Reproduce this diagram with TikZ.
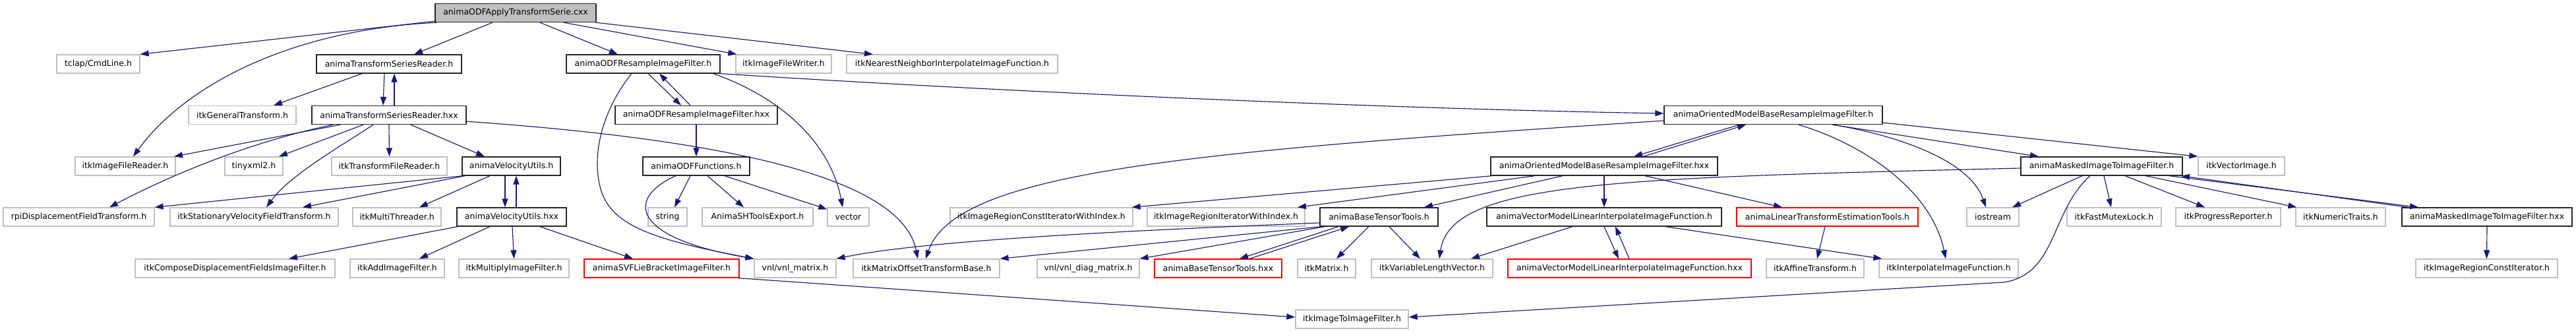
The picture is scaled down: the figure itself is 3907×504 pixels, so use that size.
\documentclass[tikz,border=0pt]{standalone}
\usepackage{fontspec}
\setmainfont{DejaVu Sans}
\usetikzlibrary{arrows.meta}
\definecolor{edgec}{HTML}{191970}
\definecolor{graybd}{HTML}{BFBFBF}
\begin{document}
\begin{tikzpicture}[x=1pt,y=-1pt,
  nb/.style={draw, line width=1.3pt, minimum height=28pt, inner sep=0pt, font=\fontsize{12.5}{14}\selectfont, anchor=center},
  gb/.style={nb, draw=graybd},
  kb/.style={nb, draw=black!85},
  rb/.style={nb, draw=red},
  dep/.style={draw=edgec, line width=1.15pt, -{Triangle[length=13pt,width=9pt]}}]
\fill[white] (0,0) rectangle (3907,504);
\useasboundingbox (0,0) rectangle (3907,504);
% row 1
\node[kb, fill=graybd, minimum width=244pt] (top) at (782,19.5) {animaODFApplyTransformSerie.cxx};
% row 2
\node[gb, minimum width=126pt] (tclap) at (149,97) {tclap/CmdLine.h};
\node[kb, minimum width=220pt] (tsrh) at (590,97) {animaTransformSeriesReader.h};
\node[kb, minimum width=233pt] (odfrh) at (975.5,97) {animaODFResampleImageFilter.h};
\node[gb, minimum width=145pt] (writer) at (1188.5,97) {itkImageFileWriter.h};
\node[gb, minimum width=320pt] (nn) at (1444,97) {itkNearestNeighborInterpolateImageFunction.h};
% row 3
\node[gb, minimum width=163pt] (gentr) at (367.5,174.5) {itkGeneralTransform.h};
\node[kb, minimum width=234pt] (tsrhxx) at (590,174.5) {animaTransformSeriesReader.hxx};
\node[kb, minimum width=246pt] (odfrhxx) at (1056,174.5) {animaODFResampleImageFilter.hxx};
\node[kb, minimum width=331pt] (ombh) at (2689.5,174.5) {animaOrientedModelBaseResampleImageFilter.h};
% row 4
\node[gb, minimum width=152pt] (reader) at (190,252) {itkImageFileReader.h};
\node[gb, minimum width=88pt] (tinyxml) at (385,252) {tinyxml2.h};
\node[gb, minimum width=175pt] (tfreader) at (590.5,252) {itkTransformFileReader.h};
\node[kb, minimum width=149pt] (vuh) at (775.5,252) {animaVelocityUtils.h};
\node[kb, minimum width=162pt] (odff) at (1056,252) {animaODFFunctions.h};
\node[kb, minimum width=344pt] (ombhxx) at (2433,252) {animaOrientedModelBaseResampleImageFilter.hxx};
\node[kb, minimum width=245pt] (maskedh) at (3187.5,252) {animaMaskedImageToImageFilter.h};
\node[gb, minimum width=131pt] (vecimg) at (3399.5,252) {itkVectorImage.h};
% row 5
\node[gb, minimum width=229pt] (rpi) at (119.5,329) {rpiDisplacementFieldTransform.h};
\node[gb, minimum width=255pt] (svft) at (385.5,329) {itkStationaryVelocityFieldTransform.h};
\node[gb, minimum width=134pt] (mthr) at (602,329) {itkMultiThreader.h};
\node[kb, minimum width=166pt] (vuhxx) at (776,329) {animaVelocityUtils.hxx};
\node[gb, minimum width=59pt] (string) at (1012.5,329) {string};
\node[gb, minimum width=168pt] (shexp) at (1149,329) {AnimaSHToolsExport.h};
\node[gb, minimum width=63pt] (vector) at (1286.5,329) {vector};
\node[gb, minimum width=277pt] (ircii) at (1579.5,329) {itkImageRegionConstIteratorWithIndex.h};
\node[gb, minimum width=239pt] (irii) at (1859.5,329) {itkImageRegionIteratorWithIndex.h};
\node[kb, minimum width=179pt] (btth) at (2091.5,329) {animaBaseTensorTools.h};
\node[kb, minimum width=356pt] (vmlih) at (2433,329) {animaVectorModelLinearInterpolateImageFunction.h};
\node[rb, minimum width=275pt] (ltet) at (2771.5,329) {animaLinearTransformEstimationTools.h};
\node[gb, minimum width=79pt] (iostream) at (3022.5,329) {iostream};
\node[gb, minimum width=143pt] (fml) at (3206.5,329) {itkFastMutexLock.h};
\node[gb, minimum width=159pt] (progress) at (3379.5,329) {itkProgressReporter.h};
\node[gb, minimum width=136pt] (numtraits) at (3550,329) {itkNumericTraits.h};
\node[kb, minimum width=258pt] (maskedhxx) at (3772,329) {animaMaskedImageToImageFilter.hxx};
% row 6
\node[gb, minimum width=303pt] (compose) at (356.5,407) {itkComposeDisplacementFieldsImageFilter.h};
\node[gb, minimum width=143pt] (add) at (602.5,407) {itkAddImageFilter.h};
\node[gb, minimum width=167pt] (mult) at (779.5,407) {itkMultiplyImageFilter.h};
\node[rb, minimum width=235pt] (svflie) at (1003.5,407) {animaSVFLieBracketImageFilter.h};
\node[gb, minimum width=124pt] (vnlm) at (1206,407) {vnl/vnl\_matrix.h};
\node[gb, minimum width=222pt] (mob) at (1405,407) {itkMatrixOffsetTransformBase.h};
\node[gb, minimum width=155pt] (diag) at (1650.5,407) {vnl/vnl\_diag\_matrix.h};
\node[rb, minimum width=193pt] (btthxx) at (1847.5,407) {animaBaseTensorTools.hxx};
\node[gb, minimum width=88pt] (itkmatrix) at (2012,407) {itkMatrix.h};
\node[gb, minimum width=184pt] (varlen) at (2172,407) {itkVariableLengthVector.h};
\node[rb, minimum width=369pt] (vmlihxx) at (2471.5,407) {animaVectorModelLinearInterpolateImageFunction.hxx};
\node[gb, minimum width=148pt] (affine) at (2753,407) {itkAffineTransform.h};
\node[gb, minimum width=211pt] (interp) at (2955.5,407) {itkInterpolateImageFunction.h};
\node[gb, minimum width=215pt] (ircit) at (3771.5,407) {itkImageRegionConstIterator.h};
% row 7
\node[gb, minimum width=171pt] (i2i) at (2050.5,484) {itkImageToImageFilter.h};

% edges from top
\draw[dep] ([yshift=2pt]top.south west) -- (tclap.north east);
\draw[dep] ([xshift=3pt]top.south west) .. controls (440,45) and (280,130) .. ([xshift=12pt]reader.north);
\draw[dep] ([xshift=-35pt]top.south) -- ([xshift=38pt]tsrh.north);
\draw[dep] ([xshift=37pt]top.south) -- ([xshift=-38.5pt]odfrh.north);
\draw[dep] ([xshift=73pt]top.south) -- ([xshift=2pt]writer.north west);
\draw[dep] ([xshift=-1pt]top.south east) -- ([xshift=-120pt]nn.north);
% transform series reader
\draw[dep] ([xshift=-41pt]tsrh.south) -- ([xshift=47.5pt]gentr.north);
\draw[dep] ([xshift=-7pt]tsrh.south) -- ([xshift=-9pt]tsrhxx.north);
\draw[dep] ([xshift=8pt]tsrhxx.north) -- ([xshift=8pt]tsrh.south);
\draw[dep] ([xshift=-74pt]tsrhxx.south) -- ([xshift=74pt]reader.north);
\draw[dep] ([xshift=-85pt]tsrhxx.south) .. controls (380,215) and (260,265) .. ([xshift=46.5pt]rpi.north);
\draw[dep] ([xshift=-39pt]tsrhxx.south) -- ([xshift=38pt]tinyxml.north);
\draw[dep] ([xshift=-24pt]tsrhxx.south) .. controls (520,220) and (440,265) .. ([xshift=18.5pt]svft.north);
\draw[dep] (tsrhxx.south) -- (tfreader.north);
\draw[dep] ([xshift=33pt]tsrhxx.south) -- ([xshift=-40.5pt]vuh.north);
\draw[dep] ([yshift=5pt]tsrhxx.south east) .. controls (1150,215) and (1370,280) .. ([xshift=-13pt]mob.north);
% velocity utils
\draw[dep] ([xshift=2pt]vuh.south west) -- (rpi.north east);
\draw[dep] ([xshift=5pt]vuh.south west) -- ([xshift=73.5pt]svft.north);
\draw[dep] ([xshift=-32.5pt]vuh.south) -- ([xshift=34pt]mthr.north);
\draw[dep] ([xshift=-9.5pt]vuh.south) -- ([xshift=-10pt]vuhxx.north);
\draw[dep] ([xshift=7pt]vuhxx.north) -- ([xshift=7.5pt]vuh.south);
\draw[dep] ([xshift=2pt]vuhxx.south west) -- ([xshift=81.5pt]compose.north);
\draw[dep] ([xshift=-33pt]vuhxx.south) -- ([xshift=33.5pt]add.north);
\draw[dep] ([xshift=1pt]vuhxx.south) -- (mult.north);
\draw[dep] ([xshift=43pt]vuhxx.south) -- ([xshift=-43.5pt]svflie.north);
\draw[dep] ([xshift=-2pt]svflie.south east) -- ([yshift=3pt]i2i.west);
% ODF resample
\draw[dep] ([xshift=7.5pt]odfrh.south) -- ([xshift=-23pt]odfrhxx.north);
\draw[dep] ([xshift=-9pt]odfrhxx.north) -- ([xshift=24.5pt]odfrh.south);
\draw[dep] (odfrhxx.south) -- (odff.north);
\draw[dep] ([xshift=-17.5pt]odfrh.south) .. controls (915,165) and (895,235) .. (912,290) .. controls (930,345) and (1000,365) .. (vnlm.north west);
\draw[dep] ([xshift=-31pt]odff.south) .. controls (950,300) and (955,360) .. (vnlm.north west);
\draw[dep] ([xshift=-9pt]odff.south) -- ([xshift=10.5pt]string.north);
\draw[dep] ([xshift=17pt]odff.south) -- ([xshift=-21pt]shexp.north);
\draw[dep] ([xshift=43pt]odff.south) -- ([yshift=-3pt]vector.north west);
\draw[dep] ([xshift=106.5pt]odfrh.south) .. controls (1190,150) and (1260,220) .. ([xshift=-8.5pt]vector.north);
\draw[dep] (odfrh.south east) .. controls (1500,138) and (2100,165) .. ([yshift=2.5pt]ombh.west);
% oriented model base
\draw[dep] ([yshift=-8.5pt]ombh.west) .. controls (1800,230) and (1450,260) .. ([xshift=-1pt]mob.north);
\draw[dep] ([xshift=-51.5pt]ombh.south) -- ([xshift=45pt]ombhxx.north);
\draw[dep] ([xshift=59pt]ombhxx.north) -- ([xshift=-41.5pt]ombh.south);
\draw[dep] ([xshift=89.5pt]ombh.south) -- ([xshift=-95.5pt]maskedh.north);
\draw[dep] ([yshift=-11.5pt]ombh.east) -- (vecimg.north west);
\draw[dep] ([xshift=91.5pt]ombh.south) .. controls (2900,210) and (2990,250) .. ([xshift=-10.5pt]iostream.north);
\draw[dep] ([xshift=38.5pt]ombh.south) .. controls (2830,220) and (2930,290) .. ([xshift=-4.5pt]interp.north);
\draw[dep] ([xshift=3pt]ombhxx.south west) -- ([xshift=-2pt]ircii.north east);
\draw[dep] ([xshift=-105pt]ombhxx.south) -- ([xshift=108.5pt]irii.north);
\draw[dep] ([xshift=-63pt]ombhxx.south) -- ([xshift=68.5pt]btth.north);
\draw[dep] (ombhxx.south) -- (vmlih.north);
\draw[dep] ([xshift=62pt]ombhxx.south) -- ([xshift=-68.5pt]ltet.north);
% masked image filter
\draw[dep] ([yshift=-3pt]maskedh.west) .. controls (2450,270) and (2200,275) .. ([xshift=11pt]varlen.north);
\draw[dep] ([xshift=-17.5pt]maskedh.south) .. controls (3110,320) and (3120,415) .. (3040,428) -- ([yshift=3pt]i2i.east);
\draw[dep] ([xshift=-29.5pt]maskedh.south) -- ([xshift=29.5pt]iostream.north);
\draw[dep] ([xshift=3.5pt]maskedh.south) -- ([xshift=-4.5pt]fml.north);
\draw[dep] ([xshift=35.5pt]maskedh.south) -- ([xshift=-35.5pt]progress.north);
\draw[dep] ([xshift=66.5pt]maskedh.south) -- ([xshift=2pt]numtraits.north west);
\draw[dep] ([xshift=102.5pt]maskedh.south) -- ([xshift=-104pt]maskedhxx.north);
\draw[dep] ([xshift=-120pt]maskedhxx.north) -- ([xshift=120.5pt]maskedh.south);
\draw[dep] (maskedhxx.south) -- (ircit.north);
% base tensor tools
\draw[dep] ([yshift=-9pt]btth.west) .. controls (1700,350) and (1400,365) .. (vnlm.north east);
\draw[dep] ([xshift=3pt]btth.south west) -- (mob.north east);
\draw[dep] ([xshift=8pt]btth.south west) -- (diag.north east);
\draw[dep] ([xshift=-61.5pt]btth.south) -- ([xshift=32.5pt]btthxx.north);
\draw[dep] ([xshift=47.5pt]btthxx.north) -- ([xshift=-45.5pt]btth.south);
\draw[dep] ([xshift=-15.5pt]btth.south) -- ([xshift=15pt]itkmatrix.north);
\draw[dep] ([xshift=15.5pt]btth.south) -- ([xshift=-18pt]varlen.north);
% vector model linear interpolate
\draw[dep] ([xshift=-48pt]vmlih.south) -- ([xshift=59pt]varlen.north);
\draw[dep] (vmlih.south) -- ([xshift=-16.5pt]vmlihxx.north);
\draw[dep] ([xshift=-0.5pt]vmlihxx.north) -- ([xshift=17pt]vmlih.south);
\draw[dep] ([xshift=93pt]vmlih.south) -- ([xshift=5pt]interp.north west);
\draw[dep] ([xshift=-3.5pt]ltet.south) -- ([xshift=3pt]affine.north);
\end{tikzpicture}
\end{document}
